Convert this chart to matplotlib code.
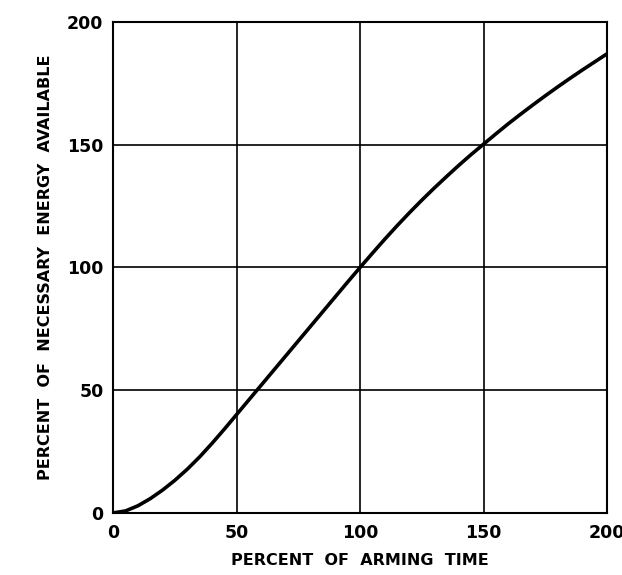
import numpy as np
import matplotlib
matplotlib.use("Agg")
import matplotlib.pyplot as plt

# values
arming_time = [0, 5, 10, 15, 20, 25, 30, 35, 40, 45, 50, 55, 60, 65, 70, 75, 80,
               85, 90, 95, 100, 105, 110, 115, 120, 125, 130, 135, 140, 145, 150,
               155, 160, 165, 170, 175, 180, 185, 190, 195, 200]
energy_avail = [0, 0.8, 2.9, 5.8, 9.3, 13.3, 17.8, 22.8, 28.3, 34.1, 40.1, 46.1,
                52.1, 58.1, 64.1, 70.1, 76.1, 82.1, 88.1, 94.1, 100.0, 105.8,
                111.5, 117.0, 122.3, 127.4, 132.3, 137.0, 141.6, 146.0, 150.2,
                154.4, 158.5, 162.4, 166.2, 169.9, 173.5, 177.0, 180.4, 183.7,
                187.0]

ticks = [0, 50, 100, 150, 200]
tick_labels = ["0", "50", "100", "150", "200"]


def main():
    fig = plt.figure(figsize=(6.22, 5.75), dpi=100)
    ax = fig.add_axes([0.182, 0.108, 0.794, 0.854])

    ax.plot(arming_time, energy_avail, color="black", linewidth=2.6,
            solid_capstyle="round", solid_joinstyle="round", zorder=3)

    ax.set_xlim(0, 200)
    ax.set_ylim(0, 200)
    ax.set_xticks(ticks)
    ax.set_yticks(ticks)
    ax.set_xticklabels(tick_labels)
    ax.set_yticklabels(tick_labels)
    ax.tick_params(length=0, labelsize=12.5, pad=8)
    ax.tick_params(axis="y", pad=7)
    for lab in ax.get_xticklabels() + ax.get_yticklabels():
        lab.set_fontweight("bold")

    ax.grid(True, color="black", linewidth=1.2)
    for s in ax.spines.values():
        s.set_linewidth(1.5)
        s.set_color("black")

    ax.set_xlabel("PERCENT  OF  ARMING  TIME", fontsize=11.5, fontweight="bold",
                  labelpad=8)
    ax.set_ylabel("PERCENT  OF  NECESSARY  ENERGY  AVAILABLE", fontsize=11.5,
                  fontweight="bold", labelpad=10)

    fig.savefig("out.png", dpi=100)
    plt.close(fig)


if __name__ == "__main__":
    main()
